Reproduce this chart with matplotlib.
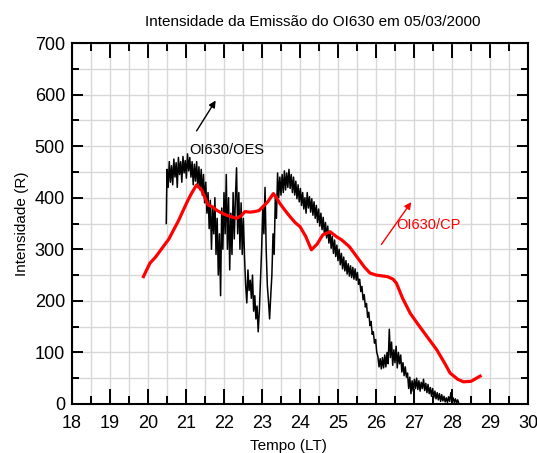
import matplotlib
matplotlib.use("Agg")
import matplotlib.pyplot as plt
from matplotlib.ticker import MultipleLocator

plt.rcParams['font.family'] = ['Liberation Sans Narrow', 'Liberation Sans', 'DejaVu Sans']

# OI630 / OES (fotometro) - serie ruidosa
oes_tempo = [
    20.48, 20.50, 20.53, 20.56, 20.59, 20.62, 20.65, 20.68, 20.71, 20.74, 20.77, 20.80,
    20.83, 20.86, 20.89, 20.92, 20.95, 20.98, 21.01, 21.04, 21.07, 21.10, 21.13, 21.16,
    21.19, 21.22, 21.25, 21.28, 21.31, 21.34, 21.37, 21.40, 21.43, 21.46, 21.49, 21.52,
    21.55, 21.58, 21.61, 21.64, 21.67, 21.70, 21.73, 21.76, 21.79, 21.82, 21.85, 21.88,
    21.91, 21.94, 21.97, 22.00, 22.03, 22.06, 22.09, 22.12, 22.15, 22.18, 22.21, 22.24,
    22.27, 22.30, 22.33, 22.36, 22.39, 22.42, 22.45, 22.48, 22.51, 22.54, 22.57, 22.60,
    22.63, 22.66, 22.69, 22.72, 22.75, 22.78, 22.81, 22.84, 22.87, 22.90, 22.93, 22.96,
    22.99, 23.02, 23.05, 23.08, 23.11, 23.14, 23.17, 23.20, 23.23, 23.26, 23.29, 23.32,
    23.35, 23.38, 23.41, 23.44, 23.47, 23.50, 23.53, 23.56, 23.59, 23.62, 23.65, 23.68,
    23.71, 23.74, 23.77, 23.80, 23.83, 23.86, 23.89, 23.92, 23.95, 23.98, 24.01, 24.04,
    24.07, 24.10, 24.13, 24.16, 24.19, 24.22, 24.25, 24.28, 24.31, 24.34, 24.37, 24.40,
    24.43, 24.46, 24.49, 24.52, 24.55, 24.58, 24.61, 24.64, 24.67, 24.70, 24.73, 24.76,
    24.79, 24.82, 24.85, 24.88, 24.91, 24.94, 24.97, 25.00, 25.03, 25.06, 25.09, 25.12,
    25.15, 25.18, 25.21, 25.24, 25.27, 25.30, 25.33, 25.36, 25.39, 25.42, 25.45, 25.48,
    25.51, 25.54, 25.57, 25.60, 25.63, 25.66, 25.69, 25.72, 25.75, 25.78, 25.81, 25.84,
    25.87, 25.90, 25.93, 25.96, 25.99, 26.02, 26.05, 26.08, 26.11, 26.14, 26.17, 26.20,
    26.23, 26.26, 26.29, 26.32, 26.35, 26.38, 26.41, 26.44, 26.47, 26.50, 26.53, 26.56,
    26.59, 26.62, 26.65, 26.68, 26.71, 26.74, 26.77, 26.80, 26.83, 26.86, 26.89, 26.92,
    26.95, 26.98, 27.01, 27.04, 27.07, 27.10, 27.13, 27.16, 27.19, 27.22, 27.25, 27.28,
    27.31, 27.34, 27.37, 27.40, 27.43, 27.46, 27.49, 27.52, 27.55, 27.58, 27.61, 27.64,
    27.67, 27.70, 27.73, 27.76, 27.79, 27.82, 27.85, 27.88, 27.91, 27.94, 27.97, 28.00,
    28.03, 28.06, 28.09, 28.12, 28.15, 28.18,
]
oes_intensidade = [
    350, 455, 420, 470, 430, 462, 425, 475, 440, 468, 420, 478,
    445, 470, 430, 480, 448, 472, 438, 485, 452, 478, 440, 470,
    425, 465, 432, 470, 420, 460, 415, 455, 405, 445, 390, 430,
    370, 410, 340, 395, 300, 380, 330, 400, 290, 360, 250, 330,
    210, 380, 300, 410, 330, 445, 300, 400, 260, 370, 290, 410,
    320, 400, 458, 330, 410, 300, 390, 290, 360, 285, 230, 196,
    260, 220, 240, 205, 250, 180, 210, 165, 190, 140, 180, 240,
    300, 380, 330, 420, 300, 230, 200, 165, 210, 250, 330, 290,
    400, 360, 448, 400, 440, 405, 445, 410, 452, 415, 448, 420,
    455, 418, 445, 410, 440, 405, 432, 398, 425, 392, 418, 385,
    410, 378, 400, 370, 410, 380, 402, 372, 398, 366, 392, 360,
    385, 352, 378, 345, 370, 338, 362, 330, 352, 322, 345, 312,
    335, 302, 325, 292, 318, 286, 308, 278, 300, 270, 292, 262,
    285, 258, 278, 252, 272, 248, 268, 245, 265, 242, 262, 240,
    255, 232, 242, 218, 228, 202, 212, 188, 195, 168, 178, 152,
    160, 135, 140, 118, 125, 100, 92, 72, 88, 68, 90, 70,
    95, 72, 100, 78, 145, 90, 120, 75, 105, 80, 112, 70,
    100, 78, 95, 62, 80, 55, 72, 52, 60, 30, 52, 20,
    45, 25, 48, 30, 50, 28, 45, 25, 42, 30, 48, 26,
    40, 22, 38, 20, 32, 15, 30, 12, 25, 10, 22, 8,
    20, 5, 18, 6, 15, 4, 12, 3, 14, 5, 22, 4,
    12, 3, 10, 2, 8, 1,
]

# OI630 / CP (calculado) - serie suave
cp_tempo = [
    19.88, 20.05, 20.20, 20.40, 20.55, 20.67, 20.80, 20.93, 21.05, 21.15, 21.28, 21.41,
    21.50, 21.58, 21.70, 21.80, 21.95, 22.07, 22.20, 22.33, 22.45, 22.55, 22.68, 22.80,
    22.92, 23.03, 23.15, 23.30, 23.38, 23.47, 23.60, 23.74, 23.87, 24.00, 24.15, 24.30,
    24.45, 24.60, 24.79, 24.95, 25.10, 25.30, 25.50, 25.70, 25.84, 26.00, 26.30, 26.45,
    26.54, 26.70, 26.90, 27.10, 27.30, 27.60, 27.80, 27.95, 28.15, 28.30, 28.50, 28.74,
]
cp_intensidade = [
    247, 273, 285, 305, 320, 337, 355, 376, 395, 409, 425, 415,
    400, 386, 382, 376, 370, 366, 363, 360, 365, 373, 372, 373,
    375, 383, 392, 408, 400, 389, 376, 363, 352, 344, 325, 299,
    310, 328, 334, 325, 318, 305, 285, 265, 254, 250, 247, 242,
    234, 205, 176, 155, 135, 105, 80, 60, 48, 43, 44, 54,
]

fig = plt.figure(figsize=(5.37, 4.53), dpi=100)
ax = fig.add_axes([72 / 537, 1 - 404 / 453, 456 / 537, 361 / 453])

ax.plot(oes_tempo, oes_intensidade, color="black", lw=1.1, zorder=3)
ax.plot(cp_tempo, cp_intensidade, color="red", lw=2.3, zorder=4)

ax.set_xlim(18, 30)
ax.set_ylim(0, 700)
ax.xaxis.set_major_locator(MultipleLocator(1))
ax.xaxis.set_minor_locator(MultipleLocator(0.5))
ax.yaxis.set_major_locator(MultipleLocator(100))
ax.yaxis.set_minor_locator(MultipleLocator(50))
ax.grid(True, which="both", color="#d8d8d8", lw=1.0, zorder=0)
ax.set_axisbelow(True)

ax.tick_params(which="both", direction="in", top=True, right=True, width=1.4, labelsize=13)
ax.tick_params(axis="x", which="major", length=11, pad=8)
ax.tick_params(axis="x", which="minor", length=6)
ax.tick_params(axis="y", which="major", length=8, pad=5)
ax.tick_params(axis="y", which="minor", length=5)
for s in ax.spines.values():
    s.set_linewidth(1.5)

ax.set_xlabel("Tempo (LT)", fontsize=11)
ax.xaxis.set_label_coords((288 - 72) / 456, (404 - 446) / 361)
ax.xaxis.label.set_va("center")
ax.set_ylabel("Intensidade (R)", fontsize=11)
ax.yaxis.set_label_coords((22 - 72) / 456, 0.5)
ax.yaxis.label.set_va("center")

fig.text(313 / 537, 1 - 22 / 453, "Intensidade da Emissão do OI630 em 05/03/2000",
         ha="center", va="center", fontsize=11)

ax.annotate("", xy=(21.82, 593), xytext=(21.24, 525),
            arrowprops=dict(arrowstyle="-|>", color="black", lw=1.0, mutation_scale=10))
ax.text(22.08, 492, "OI630/OES", ha="center", va="center", fontsize=10.5)

ax.annotate("", xy=(26.97, 396), xytext=(26.1, 305),
            arrowprops=dict(arrowstyle="-|>", color="red", lw=1.0, mutation_scale=10))
ax.text(27.39, 347, "OI630/CP", ha="center", va="center", fontsize=10.5, color="red")

fig.savefig("out.png", dpi=100)
